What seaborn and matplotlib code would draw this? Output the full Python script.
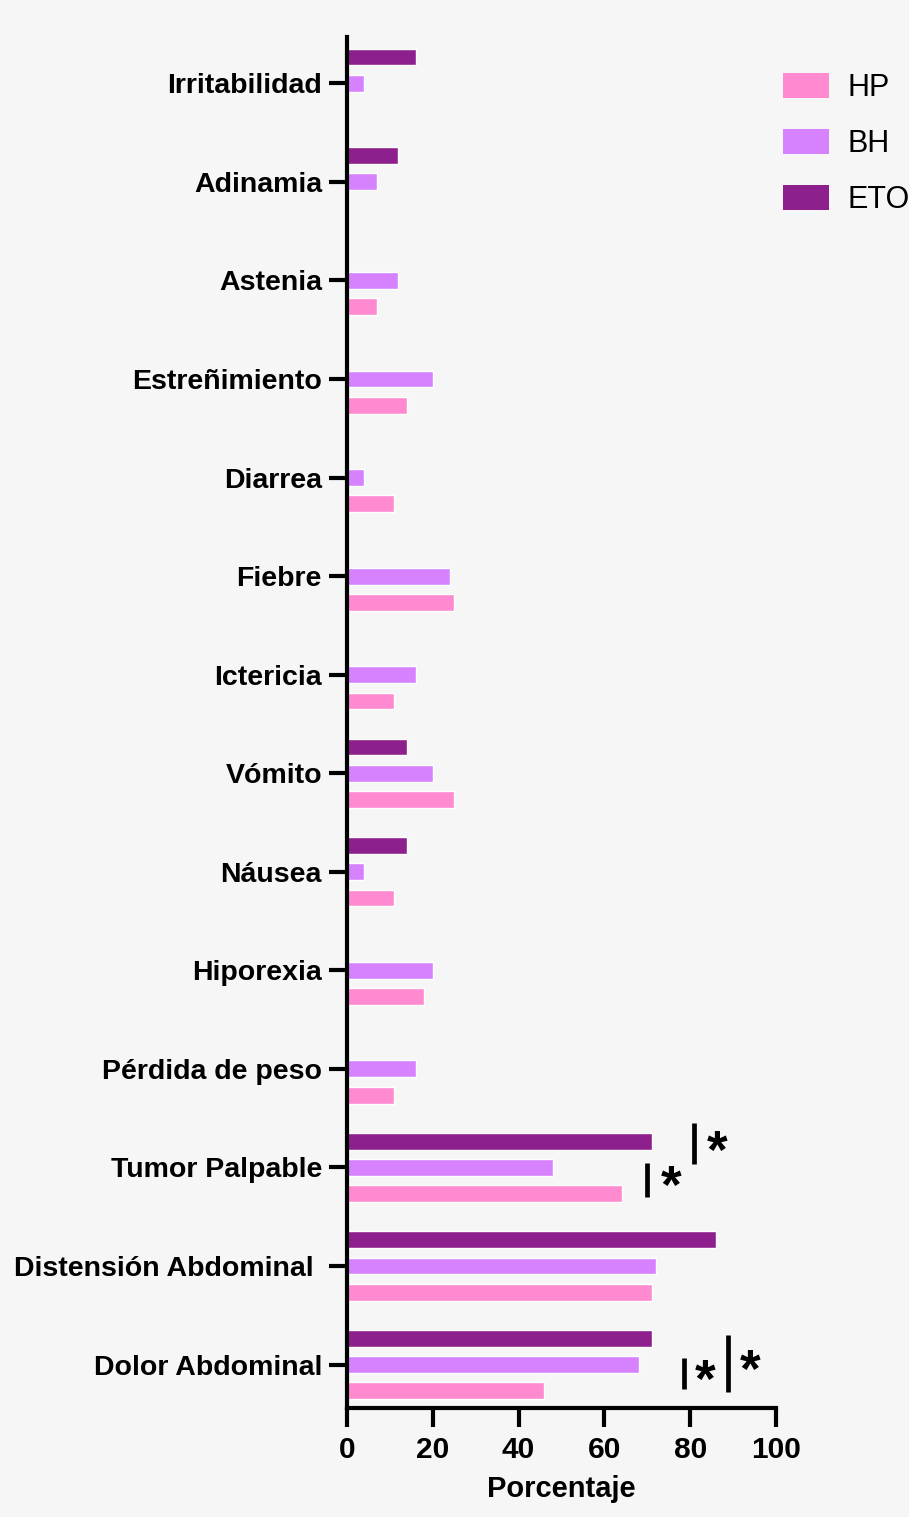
import matplotlib
matplotlib.use("Agg")
import matplotlib.pyplot as plt
import numpy as np
import pandas as pd
import seaborn as sns
from matplotlib.patches import Patch

# ---- data (percent of patients per group; NaN = not reported) ----
sintomas = [
    "Irritabilidad", "Adinamia", "Astenia", "Estreñimiento", "Diarrea",
    "Fiebre", "Ictericia", "Vómito", "Náusea", "Hiporexia",
    "Pérdida de peso", "Tumor Palpable", "Distensión Abdominal ", "Dolor Abdominal",
]
hp = [np.nan, np.nan, 7, 14, 11, 25, 11, 25, 11, 18, 11, 64, 71, 46]
bh = [4, 7, 12, 20, 4, 24, 16, 20, 4, 20, 16, 48, 72, 68]
eto = [16, 12, np.nan, np.nan, np.nan, np.nan, np.nan, 14, 14, np.nan, np.nan, 71, 86, 71]

grupos = ["HP", "BH", "ETO"]
colores = {"HP": "#FF8AD0", "BH": "#D682FF", "ETO": "#8E208E"}

# significance brackets: (x, y0, y1, star_x, star_y)
sig_marks = [
    (81, 10.55, 10.96, 86.3, 10.86),
    (70, 10.95, 11.30, 75.6, 11.22),
    (78.5, 12.93, 13.25, 83.5, 13.19),
    (88.8, 12.70, 13.28, 94, 13.09),
]

df = pd.DataFrame({"sintoma": sintomas, "HP": hp, "BH": bh, "ETO": eto})
long = df.melt(id_vars="sintoma", var_name="grupo", value_name="pct").dropna()

sns.set_theme(style="white")
plt.rcParams.update({
    "font.family": ["Liberation Sans", "DejaVu Sans"],
    "font.weight": "bold",
    "text.color": "black",
    "axes.labelcolor": "black",
    "xtick.color": "black",
    "ytick.color": "black",
    "axes.edgecolor": "black",
    "axes.linewidth": 3,
    "figure.facecolor": "#F6F6F6",
    "axes.facecolor": "#F6F6F6",
})

fig = plt.figure(figsize=(9.09, 15.17), dpi=100)
ax = fig.add_axes([0.3817, 0.0719, 0.4720, 0.9037])

sns.barplot(
    data=long, y="sintoma", x="pct", hue="grupo",
    order=sintomas, hue_order=["ETO", "BH", "HP"],
    palette=colores, saturation=1, orient="h", width=0.8, gap=0.36,
    dodge=True, legend=False, ax=ax,
)

for x, y0, y1, sx, sy in sig_marks:
    ax.plot([x, x], [y0, y1], color="black", lw=3.4, solid_capstyle="butt", clip_on=False)
    ax.text(sx, sy, "*", fontsize=38, fontweight="bold", ha="center", va="center")

ax.set_xlim(0, 100)
ax.set_ylim(13.44, -0.47)
ax.set_xticks(range(0, 101, 20))
ax.set_xlabel("Porcentaje", fontsize=21, fontweight="bold", labelpad=8)
ax.set_ylabel("")
ax.tick_params(axis="y", length=13, width=3, pad=5, labelsize=20.5, left=True)
ax.tick_params(axis="x", length=14, width=3, pad=6, labelsize=21.5, bottom=True)
for lab in ax.get_xticklabels() + ax.get_yticklabels():
    lab.set_fontweight("bold")
sns.despine(ax=ax)

handles = [Patch(facecolor=colores[g], edgecolor="none", label=g) for g in grupos]
fig.legend(
    handles=handles, loc="upper left", bbox_to_anchor=(783 / 909, 1 - 73 / 1517),
    frameon=False, prop={"size": 22, "weight": "normal"},
    handlelength=1.5, handleheight=0.85, handletextpad=0.6,
    labelspacing=0.85, borderpad=0, borderaxespad=0,
)

fig.savefig("out.png", dpi=100, facecolor=fig.get_facecolor())
